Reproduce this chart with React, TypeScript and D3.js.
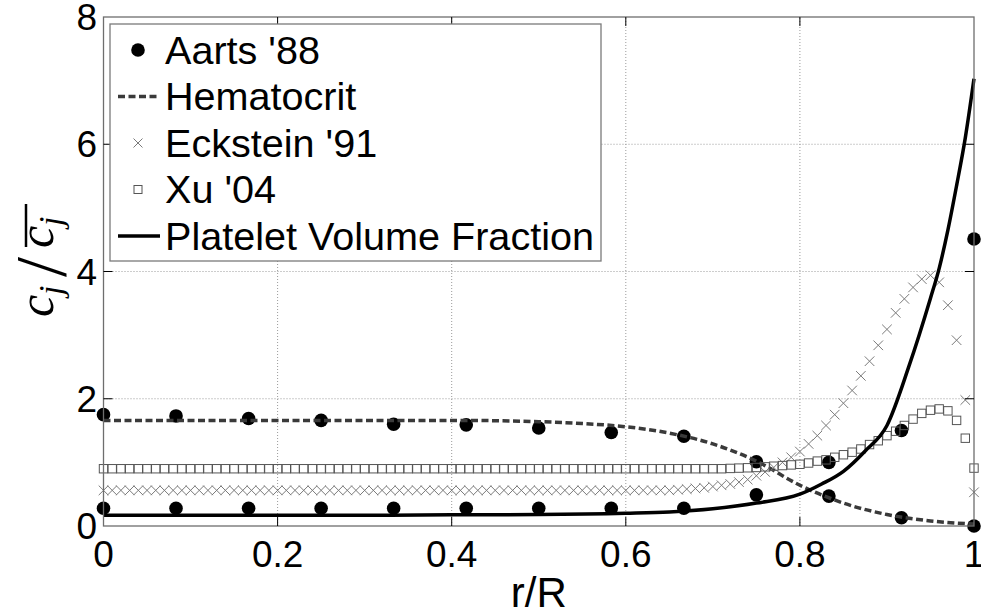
import React from 'react';
import * as d3 from 'd3';

// Aarts '88 (two point sets on the same r grid)
const aartsR = [0, 0.0833, 0.1667, 0.25, 0.3333, 0.4167, 0.5, 0.5833, 0.6667, 0.75, 0.8333, 0.9167, 1];
const aartsRbc = [1.75, 1.73, 1.69, 1.66, 1.60, 1.59, 1.54, 1.47, 1.41, 1.01, 0.47, 0.13, 0.0];
const aartsPlt = [0.28, 0.28, 0.28, 0.28, 0.28, 0.28, 0.28, 0.28, 0.28, 0.49, 1.0, 1.5, 4.51];

// Hematocrit curve
const hctR = [0, 0.1, 0.2, 0.3, 0.4, 0.5, 0.55, 0.6, 0.65, 0.7, 0.75, 0.8, 0.85, 0.9, 0.95, 1];
const hctV = [1.66, 1.66, 1.66, 1.66, 1.66, 1.64, 1.61, 1.56, 1.46, 1.29, 1.02, 0.64, 0.36, 0.18, 0.08, 0.03];

// Eckstein '91 and Xu '04 share a grid of 101 r positions
const gridR = d3.range(101).map(i => i / 100);
const eckV = [
  0.56, 0.56, 0.56, 0.56, 0.56, 0.56, 0.56, 0.56, 0.56, 0.56,
  0.56, 0.56, 0.56, 0.56, 0.56, 0.56, 0.56, 0.56, 0.56, 0.56,
  0.56, 0.56, 0.56, 0.56, 0.56, 0.56, 0.56, 0.56, 0.56, 0.56,
  0.56, 0.56, 0.56, 0.56, 0.56, 0.56, 0.56, 0.56, 0.56, 0.56,
  0.56, 0.56, 0.56, 0.56, 0.56, 0.56, 0.56, 0.56, 0.56, 0.56,
  0.56, 0.56, 0.56, 0.56, 0.56, 0.56, 0.56, 0.56, 0.56, 0.56,
  0.56, 0.56, 0.56, 0.56, 0.56, 0.56, 0.57, 0.58, 0.59, 0.60,
  0.62, 0.64, 0.66, 0.69, 0.73, 0.79, 0.85, 0.92, 1.00, 1.08,
  1.17, 1.29, 1.42, 1.58, 1.75, 1.93, 2.13, 2.36, 2.59, 2.84,
  3.09, 3.35, 3.57, 3.75, 3.88, 3.94, 3.83, 3.47, 2.92, 1.98,
  0.53,
];
const xuV = [
  0.90, 0.90, 0.90, 0.90, 0.90, 0.90, 0.90, 0.90, 0.90, 0.90,
  0.90, 0.90, 0.90, 0.90, 0.90, 0.90, 0.90, 0.90, 0.90, 0.90,
  0.90, 0.90, 0.90, 0.90, 0.90, 0.90, 0.90, 0.90, 0.90, 0.90,
  0.90, 0.90, 0.90, 0.90, 0.90, 0.90, 0.90, 0.90, 0.90, 0.90,
  0.90, 0.90, 0.90, 0.90, 0.90, 0.90, 0.90, 0.90, 0.90, 0.90,
  0.90, 0.90, 0.90, 0.90, 0.90, 0.90, 0.90, 0.90, 0.90, 0.90,
  0.90, 0.90, 0.90, 0.90, 0.90, 0.90, 0.90, 0.90, 0.90, 0.90,
  0.90, 0.90, 0.905, 0.91, 0.915, 0.92, 0.93, 0.94, 0.95, 0.96,
  0.97, 0.99, 1.02, 1.04, 1.08, 1.12, 1.16, 1.21, 1.28, 1.34,
  1.42, 1.49, 1.58, 1.68, 1.77, 1.82, 1.84, 1.81, 1.66, 1.38,
  0.91,
];

// Platelet volume fraction curve
const pltR = [0, 0.1, 0.2, 0.3, 0.4, 0.5, 0.6, 0.65, 0.7, 0.75, 0.8, 0.825, 0.85, 0.875, 0.9, 0.925, 0.95, 0.96, 0.97, 0.98, 0.99, 1];
const pltV = [0.17, 0.17, 0.17, 0.17, 0.175, 0.18, 0.2, 0.22, 0.27, 0.36, 0.5, 0.66, 0.86, 1.18, 1.58, 2.5, 3.58, 4.05, 4.65, 5.35, 6.1, 7.03];

const xTicks = [0, 0.2, 0.4, 0.6, 0.8, 1];
const yTicks = [0, 2, 4, 6, 8];
const legendLabels = ["Aarts '88", 'Hematocrit', "Eckstein '91", "Xu '04", 'Platelet Volume Fraction'];

const W = 981;
const H = 616;
const FONT = '"Liberation Sans", Arial, sans-serif';

const x = d3.scaleLinear().domain([0, 1]).range([103.5, 974]);
const y = d3.scaleLinear().domain([0, 8]).range([526, 17]);

const xMark = (s: number) => `M${-s},${-s}L${s},${s}M${-s},${s}L${s},${-s}`;

export default function App() {
  const line = d3.line<[number, number]>()
    .x(d => x(d[0]))
    .y(d => y(d[1]))
    .curve(d3.curveMonotoneX);

  const hctPath = line(hctR.map((r, i) => [r, hctV[i]]));
  const pltPath = line(pltR.map((r, i) => [r, pltV[i]]));

  const [x0, x1] = x.range();
  const [y0, y1] = y.range();

  const legX = 110, legY = 24, legW = 491, legH = 237;
  const rowY = (i: number) => 50 + i * 46.5;

  return (
    <svg width={W} height={H} style={{ position: 'absolute', left: 0, top: 0, background: '#fff' }}>
      {/* grid */}
      <g stroke="#9a9a9a" strokeWidth={1} strokeDasharray="1,2">
        {xTicks.slice(1, -1).map(t => (
          <line key={'gx' + t} x1={x(t)} x2={x(t)} y1={y0} y2={y1} />
        ))}
        {yTicks.slice(1, -1).map(t => (
          <line key={'gy' + t} x1={x0} x2={x1} y1={y(t)} y2={y(t)} />
        ))}
      </g>

      {/* Aarts '88 */}
      <g fill="#000">
        {aartsR.map((r, i) => <circle key={'a' + i} cx={x(r)} cy={y(aartsRbc[i])} r={6.8} />)}
        {aartsR.map((r, i) => <circle key={'b' + i} cx={x(r)} cy={y(aartsPlt[i])} r={6.8} />)}
      </g>

      {/* Hematocrit */}
      <path d={hctPath || ''} fill="none" stroke="#3a3a3a" strokeWidth={3.5} strokeDasharray="7,3.5" />

      {/* Eckstein '91 */}
      <g stroke="#7a7a7a" strokeWidth={1} fill="none">
        {gridR.map((r, i) => (
          <path key={'e' + i} d={xMark(4.8)} transform={`translate(${x(r)},${y(eckV[i])})`} />
        ))}
      </g>

      {/* Xu '04 */}
      <g stroke="#555" strokeWidth={1} fill="none">
        {gridR.map((r, i) => (
          <rect key={'x' + i} x={x(r) - 4.2} y={y(xuV[i]) - 4.2} width={8.4} height={8.4} />
        ))}
      </g>

      {/* Platelet volume fraction */}
      <path d={pltPath || ''} fill="none" stroke="#000" strokeWidth={3.5} />

      {/* axes box */}
      <rect x={x0} y={y1} width={x1 - x0} height={y0 - y1} fill="none" stroke="#6e6e6e" strokeWidth={1.3} />
      <g stroke="#000" strokeWidth={1}>
        {xTicks.slice(1, -1).map(t => (
          <g key={'tx' + t}>
            <line x1={x(t)} x2={x(t)} y1={y0} y2={y0 - 9} />
            <line x1={x(t)} x2={x(t)} y1={y1} y2={y1 + 9} />
          </g>
        ))}
        {yTicks.slice(1, -1).map(t => (
          <g key={'ty' + t}>
            <line x1={x0} x2={x0 + 9} y1={y(t)} y2={y(t)} />
            <line x1={x1} x2={x1 - 9} y1={y(t)} y2={y(t)} />
          </g>
        ))}
      </g>

      {/* tick labels */}
      <g fontFamily={FONT} fontSize={37} fill="#000">
        {xTicks.map(t => (
          <text key={'lx' + t} x={x(t)} y={567} textAnchor="middle">{String(t)}</text>
        ))}
        {yTicks.map(t => (
          <text key={'ly' + t} x={97} y={y(t) + 13} textAnchor="end">{String(t)}</text>
        ))}
      </g>

      {/* axis labels */}
      <text x={(x0 + x1) / 2} y={607} textAnchor="middle" fontFamily={FONT} fontSize={42}>r/R</text>
      <g transform="translate(53,258) rotate(-90)" fontFamily='"Liberation Serif", "DejaVu Serif", serif' fill="#000">
        <text x={-59} y={0} fontSize={50} fontStyle="italic">c</text>
        <text x={-37} y={9} fontSize={34} fontStyle="italic">j</text>
        <text x={-19} y={12} fontSize={72}>/</text>
        <text x={10} y={0} fontSize={50} fontStyle="italic">c</text>
        <text x={32} y={9} fontSize={34} fontStyle="italic">j</text>
        <line x1={11} x2={54} y1={-27} y2={-27} stroke="#000" strokeWidth={2.5} />
      </g>

      {/* legend */}
      <rect x={legX} y={legY} width={legW} height={legH} fill="#fff" stroke="#7a7a7a" strokeWidth={1.3} />
      <g>
        <circle cx={138} cy={rowY(0)} r={6.8} fill="#000" />
        <line x1={118} x2={160} y1={rowY(1)} y2={rowY(1)} stroke="#3a3a3a" strokeWidth={3.5} strokeDasharray="7,3.5" />
        <path d={xMark(4.5)} transform={`translate(138,${rowY(2)})`} stroke="#7a7a7a" strokeWidth={1} />
        <rect x={134} y={rowY(3) - 4} width={8} height={8} fill="none" stroke="#555" strokeWidth={1} />
        <line x1={118} x2={160} y1={rowY(4)} y2={rowY(4)} stroke="#000" strokeWidth={3.5} />
      </g>
      <g fontFamily={FONT} fontSize={39.6} fill="#000">
        {legendLabels.map((l, i) => (
          <text key={l} x={165} y={rowY(i) + 13.5}>{l}</text>
        ))}
      </g>
    </svg>
  );
}
